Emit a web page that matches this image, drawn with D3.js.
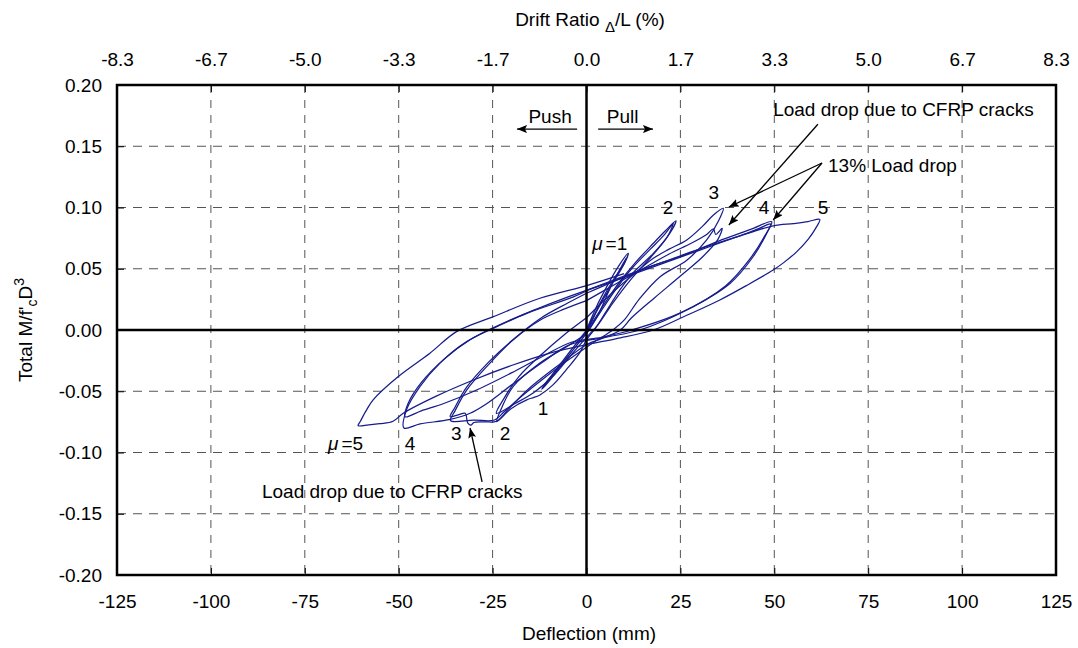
<!DOCTYPE html>
<html>
<head>
<meta charset="utf-8">
<style>
  body { margin: 0; background: #fff; }
  svg { font-family: 'Liberation Sans', Arial, sans-serif; }
  .lbl { font-size: 19px; fill: #000; }
</style>
</head>
<body>
<svg width="1078" height="648"></svg>
<script src="https://d3js.org/d3.v7.min.js"></script>
<script>
// axis ticks: deflection (mm), drift ratio labels (L = 1500 mm), moment ratio
let deflTicks = [-125, -100, -75, -50, -25, 0, 25, 50, 75, 100, 125]
let driftLabels = ["-8.3", "-6.7", "-5.0", "-3.3", "-1.7", "0.0", "1.7", "3.3", "5.0", "6.7", "8.3"]
let momentTicks = [-0.2, -0.15, -0.1, -0.05, 0, 0.05, 0.1, 0.15, 0.2]

// hysteresis record, one array per cycle: [deflection (mm), total M/f'cD^3]
let mu1a = [[0,0],[2.5,0.018],[5.5,0.036],[8.5,0.052],[11.1,0.0626],[10.2,0.055],[7.1,0.0408],[3.6,0.0218],[1,0.005],[0,-0.002],[-3,-0.014],[-6.5,-0.028],[-9.5,-0.04],[-11.9,-0.0484],[-10.5,-0.042],[-7.9,-0.0327],[-3.5,-0.016],[0,-0.003]]
let mu1b = [[0,-0.003],[3,0.012],[6.3,0.034],[8.8,0.049],[10.6,0.059],[9.5,0.051],[6.5,0.036],[3,0.017],[0.5,0.002],[-1.5,-0.006],[-5,-0.02],[-8.5,-0.034],[-11.3,-0.045],[-9.8,-0.039],[-6.5,-0.026],[-3,-0.012],[0,-0.001]]
let mu2a = [[0,-0.001],[3,0.013],[6,0.027],[9,0.04],[13,0.055],[17.8,0.0708],[21,0.081],[23.8,0.0892],[22.2,0.079],[17.8,0.0626],[12.5,0.047],[8.9,0.0327],[5,0.014],[2.5,0.002],[0,-0.008],[-1.7,-0.018],[-5,-0.031],[-9,-0.045],[-12.4,-0.053],[-14,-0.055],[-15.9,-0.057],[-20,-0.064],[-23.9,-0.0748],[-22.5,-0.063],[-19.5,-0.046],[-12.4,-0.027],[-5.3,-0.0136],[0,-0.003]]
let mu2b = [[0,-0.003],[4,0.016],[8,0.034],[12,0.05],[17,0.066],[20.5,0.077],[23.1,0.087],[21.5,0.076],[17,0.059],[12,0.042],[7,0.022],[3,0.004],[0,-0.006],[-4,-0.02],[-9,-0.038],[-14,-0.051],[-19,-0.06],[-24,-0.068],[-22,-0.056],[-18,-0.038],[-12,-0.02],[-6,-0.004],[0,0.01]]
let mu3a = [[0,0.01],[6,0.028],[12,0.044],[17.8,0.0585],[22,0.066],[26.7,0.0735],[31,0.085],[33.8,0.0939],[36.4,0.0993],[35.3,0.09],[32,0.0735],[26.7,0.057],[19.6,0.0435],[14,0.025],[10,0.008],[7,0],[3,-0.008],[0,-0.014],[-6,-0.027],[-12,-0.041],[-18,-0.056],[-22,-0.067],[-24.5,-0.0735],[-30,-0.0735],[-36.2,-0.074],[-35,-0.066],[-31.9,-0.049],[-25.7,-0.027],[-19.5,-0.008],[-12.4,0.008],[-6,0.017],[0,0.024]]
let mu3b = [[0,0.024],[8,0.038],[15,0.05],[22,0.062],[28,0.071],[32,0.078],[33.8,0.0825],[34.4,0.078],[36.1,0.083],[35,0.074],[31,0.06],[25,0.044],[18,0.026],[12,0.01],[9,0],[4,-0.007],[0,-0.012],[-8,-0.03],[-15,-0.047],[-20,-0.062],[-24,-0.0745],[-27,-0.075],[-30,-0.0755],[-30.7,-0.0776],[-31.6,-0.076],[-32.3,-0.068],[-34,-0.069],[-36.3,-0.0708],[-35,-0.063],[-32,-0.047],[-26,-0.026],[-20,-0.009],[-12,0.01],[-5,0.022],[0,0.03]]
let mu4a = [[0,0.03],[9,0.042],[17,0.052],[24.9,0.06],[30,0.066],[35.5,0.073],[40,0.078],[44.4,0.083],[49.3,0.0884],[48,0.079],[44.4,0.06],[38.2,0.038],[26.7,0.0163],[14.2,0],[5,-0.006],[-4.4,-0.012],[-12,-0.027],[-20,-0.045],[-27,-0.061],[-31,-0.068],[-36.3,-0.073],[-44.3,-0.0767],[-48.6,-0.08],[-47.9,-0.065],[-44.3,-0.046],[-39,-0.027],[-31.9,-0.0095],[-24.8,0.0014],[-15.9,0.0136],[-3.5,0.027],[0.5,0.0327]]
let mu4b = [[0.5,0.0327],[10,0.043],[20,0.054],[30,0.065],[40,0.076],[46,0.083],[49,0.0865],[47.5,0.077],[43.5,0.058],[37,0.036],[25,0.014],[12,0],[4,-0.006],[-4,-0.01],[-12,-0.022],[-20,-0.035],[-30,-0.05],[-38,-0.06],[-44,-0.066],[-48.3,-0.0708],[-47.5,-0.06],[-44,-0.043],[-38,-0.024],[-31,-0.008],[-24,0.003],[-15,0.015],[-4,0.028],[0.5,0.033]]
let mu5 = [[0.5,0.033],[10,0.044],[20,0.055],[30,0.066],[40,0.076],[49.7,0.085],[55.1,0.0869],[59,0.0885],[62.1,0.0903],[61,0.083],[59,0.074],[56,0.064],[52.5,0.055],[49.7,0.049],[43,0.037],[35.5,0.0245],[26,0.011],[17.8,0],[8,-0.007],[0,-0.012],[-10,-0.019],[-20,-0.029],[-30.1,-0.0408],[-40,-0.054],[-48.8,-0.068],[-51.5,-0.0745],[-55,-0.0765],[-58,-0.0775],[-60.8,-0.0781],[-60.2,-0.0745],[-58.7,-0.066],[-56.8,-0.057],[-50.1,-0.038],[-41.7,-0.019],[-34.6,-0.0013],[-24.8,0.0109],[-12.4,0.0259],[0.5,0.0367],[10,0.046]]

let cycles = [mu1a, mu1b, mu2a, mu2b, mu3a, mu3b, mu4a, mu4b, mu5]

// ductility labels at the peaks
let peakLabels = [
    { t: "2", x: 21.7, y: 0.0947 }, { t: "3", x: 33.9, y: 0.107 },
    { t: "4", x: 47.3, y: 0.0947 }, { t: "5", x: 63, y: 0.0947 },
    { t: "1", x: -11.6, y: -0.0694 }, { t: "2", x: -21.7, y: -0.0898 },
    { t: "3", x: -34.7, y: -0.0898 }, { t: "4", x: -47, y: -0.098 }
]

let svg = d3.select("svg")

let x = d3.scaleLinear().domain([-125, 125]).range([117, 1056])
let y = d3.scaleLinear().domain([-0.2, 0.2]).range([575, 85])

let hyphen = s => s.replace("\u2212", "-")

// arrow head
svg.append("defs").append("marker")
    .attr("id", "arr")
    .attr("viewBox", "0 0 10 8")
    .attr("refX", 10).attr("refY", 4)
    .attr("markerWidth", 10).attr("markerHeight", 8)
    .attr("markerUnits", "userSpaceOnUse")
    .attr("orient", "auto")
    .append("path")
    .attr("d", "M0,0 L10,4 L0,8 L2,4 z")
    .style("fill", "#000")

// dashed grid
svg.append("g")
    .selectAll("line")
    .data(deflTicks.filter(d => d != 0 && Math.abs(d) != 125))
    .join("line")
    .attr("x1", d => x(d)).attr("x2", d => x(d))
    .attr("y1", y(0.2)).attr("y2", y(-0.2))
    .style("stroke", "#555").style("stroke-width", 1)
    .style("stroke-dasharray", "8,7")

svg.append("g")
    .selectAll("line")
    .data(momentTicks.filter(d => d != 0 && Math.abs(d) != 0.2))
    .join("line")
    .attr("x1", x(-125)).attr("x2", x(125))
    .attr("y1", d => y(d)).attr("y2", d => y(d))
    .style("stroke", "#555").style("stroke-width", 1)
    .style("stroke-dasharray", "9,7")

// hysteresis curves
let line = d3.line()
    .x(d => x(d[0]))
    .y(d => y(d[1]))
    .curve(d3.curveCatmullRom.alpha(0.5))

svg.append("g")
    .selectAll("path")
    .data(cycles)
    .join("path")
    .attr("d", line)
    .style("fill", "none")
    .style("stroke", "#161c8c")
    .style("stroke-width", 1.25)

// zero lines
svg.append("line")
    .attr("x1", x(0)).attr("x2", x(0)).attr("y1", y(0.2)).attr("y2", y(-0.2))
    .style("stroke", "#000").style("stroke-width", 2.5)
svg.append("line")
    .attr("x1", x(-125)).attr("x2", x(125)).attr("y1", y(0)).attr("y2", y(0))
    .style("stroke", "#000").style("stroke-width", 2.5)

// axes (ticks inside)
let topAxis = d3.axisTop(x).tickValues(deflTicks)
    .tickSizeInner(-7).tickSizeOuter(0)
    .tickFormat((d, i) => driftLabels[i])
let gTop = svg.append("g").attr("transform", `translate(0,${y(0.2)})`).call(topAxis)

let bottomAxis = d3.axisBottom(x).tickValues(deflTicks)
    .tickSizeInner(-7).tickSizeOuter(0)
    .tickFormat(d => hyphen(d3.format("d")(d)))
let gBot = svg.append("g").attr("transform", `translate(0,${y(-0.2)})`).call(bottomAxis)

let leftAxis = d3.axisLeft(y).tickValues(momentTicks)
    .tickSizeInner(-7).tickSizeOuter(0)
    .tickFormat(d => hyphen(d3.format(".2f")(d)))
let gLeft = svg.append("g").attr("transform", `translate(${x(-125)},0)`).call(leftAxis)

for (let g of [gTop, gBot, gLeft]) {
    g.select(".domain").remove()
    g.selectAll(".tick line").style("stroke", "#000").style("stroke-width", 1)
    g.selectAll(".tick text")
        .style("font-family", "'Liberation Sans', Arial, sans-serif")
        .style("font-size", "19px").style("fill", "#000")
}
gTop.selectAll(".tick text").attr("y", -19)
gBot.selectAll(".tick text").attr("y", 20)
gLeft.selectAll(".tick text").attr("x", -15)

// frame
svg.append("rect")
    .attr("x", x(-125)).attr("y", y(0.2))
    .attr("width", x(125) - x(-125)).attr("height", y(-0.2) - y(0.2))
    .style("fill", "none").style("stroke", "#000").style("stroke-width", 2.5)

// axis titles
let topTitle = svg.append("text").attr("class", "lbl")
    .attr("x", 590).attr("y", 26).attr("text-anchor", "middle")
topTitle.append("tspan").text("Drift Ratio ")
topTitle.append("tspan").text("Δ").attr("dy", 6).style("font-size", "15px")
topTitle.append("tspan").text("/L (%)").attr("dy", -6)

svg.append("text").attr("class", "lbl")
    .attr("x", 589).attr("y", 640).attr("text-anchor", "middle")
    .text("Deflection (mm)")

let yTitle = svg.append("text").attr("class", "lbl")
    .attr("transform", "translate(32,330) rotate(-90)")
    .attr("text-anchor", "middle")
yTitle.append("tspan").text("Total M/f'")
yTitle.append("tspan").text("c").attr("dy", 5).style("font-size", "14px")
yTitle.append("tspan").text("D").attr("dy", -5)
yTitle.append("tspan").text("3").attr("dy", -8).style("font-size", "14px")

// peak labels
svg.append("g")
    .selectAll("text")
    .data(peakLabels)
    .join("text")
    .attr("class", "lbl")
    .attr("x", d => x(d.x)).attr("y", d => y(d.y))
    .attr("text-anchor", "middle")
    .text(d => d.t)

function muLabel(mm, v, num) {
    let t = svg.append("text").attr("class", "lbl").attr("x", x(mm)).attr("y", y(v))
    t.append("tspan").text("μ").style("font-style", "italic")
    t.append("tspan").text("=" + num).attr("dx", 3)
}
muLabel(1.5, 0.0653, 1)
muLabel(-68.8, -0.098, 5)

// push / pull
svg.append("text").attr("class", "lbl").attr("x", x(-9.7)).attr("y", y(0.169))
    .attr("text-anchor", "middle").text("Push")
svg.append("text").attr("class", "lbl").attr("x", x(9.6)).attr("y", y(0.169))
    .attr("text-anchor", "middle").text("Pull")

function arrow(x1, y1, x2, y2) {
    svg.append("line")
        .attr("x1", x(x1)).attr("y1", y(y1)).attr("x2", x(x2)).attr("y2", y(y2))
        .style("stroke", "#000").style("stroke-width", 1.3)
        .attr("marker-end", "url(#arr)")
}
arrow(-2.5, 0.164, -18.5, 0.164)
arrow(3.1, 0.164, 17.7, 0.164)

// load drop notes
svg.append("text").attr("class", "lbl").attr("x", x(49.7)).attr("y", y(0.1747))
    .text("Load drop due to CFRP cracks")
arrow(61.6, 0.168, 37.9, 0.0857)

svg.append("text").attr("class", "lbl").attr("x", x(64.3)).attr("y", y(0.129))
    .text("13% Load drop")
arrow(62.7, 0.1363, 37.9, 0.1004)
arrow(62.7, 0.1363, 49.7, 0.0898)

svg.append("text").attr("class", "lbl").attr("x", x(-86.4)).attr("y", y(-0.137))
    .text("Load drop due to CFRP cracks")
arrow(-27.8, -0.124, -31, -0.08)
</script>
</body>
</html>
